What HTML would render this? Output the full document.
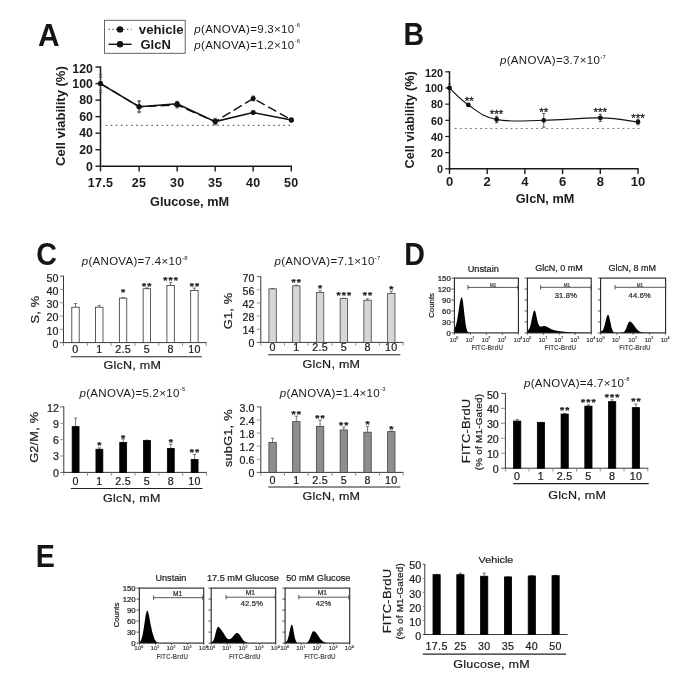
<!DOCTYPE html>
<html lang="en">
<head>
<meta charset="utf-8">
<title>Figure</title>
<style>
html,body{margin:0;padding:0;background:#fff;}
body{width:685px;height:694px;overflow:hidden;font-family:'Liberation Sans', Arial, Helvetica, sans-serif;}
svg{display:block;}
svg text{font-family:"Liberation Sans",Arial,Helvetica,sans-serif;}
</style>
</head>
<body>
<svg width="685" height="694" viewBox="0 0 685 694">
<rect x="0" y="0" width="685" height="694" fill="#ffffff"/>
<text transform="translate(37.9 46.3) scale(0.97 1)" font-size="30.8" font-weight="bold" text-anchor="start" fill="#151515">A</text>
<text transform="translate(403.6 45) scale(0.93 1)" font-size="30.8" font-weight="bold" text-anchor="start" fill="#151515">B</text>
<text transform="translate(36.2 264.9) scale(0.93 1)" font-size="30.8" font-weight="bold" text-anchor="start" fill="#151515">C</text>
<text transform="translate(404.2 264.9) scale(0.93 1)" font-size="30.8" font-weight="bold" text-anchor="start" fill="#151515">D</text>
<text transform="translate(35.8 566.5) scale(0.93 1)" font-size="30.8" font-weight="bold" text-anchor="start" fill="#151515">E</text>
<line x1="100.5" y1="66.38" x2="100.5" y2="166.9" stroke="#1a1a1a" stroke-width="1.5"/>
<line x1="99.8" y1="166.2" x2="292" y2="166.2" stroke="#1a1a1a" stroke-width="1.5"/>
<line x1="95.5" y1="166.2" x2="100.5" y2="166.2" stroke="#1a1a1a" stroke-width="1.4"/>
<text x="92.9" y="170.5" font-size="12.3" font-weight="bold" text-anchor="end" fill="#1a1a1a">0</text>
<line x1="95.5" y1="149.68" x2="100.5" y2="149.68" stroke="#1a1a1a" stroke-width="1.4"/>
<text x="92.9" y="153.98" font-size="12.3" font-weight="bold" text-anchor="end" fill="#1a1a1a">20</text>
<line x1="95.5" y1="133.16" x2="100.5" y2="133.16" stroke="#1a1a1a" stroke-width="1.4"/>
<text x="92.9" y="137.46" font-size="12.3" font-weight="bold" text-anchor="end" fill="#1a1a1a">40</text>
<line x1="95.5" y1="116.64" x2="100.5" y2="116.64" stroke="#1a1a1a" stroke-width="1.4"/>
<text x="92.9" y="120.94" font-size="12.3" font-weight="bold" text-anchor="end" fill="#1a1a1a">60</text>
<line x1="95.5" y1="100.12" x2="100.5" y2="100.12" stroke="#1a1a1a" stroke-width="1.4"/>
<text x="92.9" y="104.42" font-size="12.3" font-weight="bold" text-anchor="end" fill="#1a1a1a">80</text>
<line x1="95.5" y1="83.6" x2="100.5" y2="83.6" stroke="#1a1a1a" stroke-width="1.4"/>
<text x="92.9" y="87.9" font-size="12.3" font-weight="bold" text-anchor="end" fill="#1a1a1a">100</text>
<line x1="95.5" y1="67.08" x2="100.5" y2="67.08" stroke="#1a1a1a" stroke-width="1.4"/>
<text x="92.9" y="72.78" font-size="12.3" font-weight="bold" text-anchor="end" fill="#1a1a1a">120</text>
<line x1="100.5" y1="166.2" x2="100.5" y2="171.4" stroke="#1a1a1a" stroke-width="1.4"/>
<text x="100.5" y="187" font-size="12.5" font-weight="bold" text-anchor="middle" fill="#1a1a1a" letter-spacing="0.3">17.5</text>
<line x1="139.1" y1="166.2" x2="139.1" y2="171.4" stroke="#1a1a1a" stroke-width="1.4"/>
<text x="139.1" y="187" font-size="12.5" font-weight="bold" text-anchor="middle" fill="#1a1a1a" letter-spacing="0.3">25</text>
<line x1="177.2" y1="166.2" x2="177.2" y2="171.4" stroke="#1a1a1a" stroke-width="1.4"/>
<text x="177.2" y="187" font-size="12.5" font-weight="bold" text-anchor="middle" fill="#1a1a1a" letter-spacing="0.3">30</text>
<line x1="215.2" y1="166.2" x2="215.2" y2="171.4" stroke="#1a1a1a" stroke-width="1.4"/>
<text x="215.2" y="187" font-size="12.5" font-weight="bold" text-anchor="middle" fill="#1a1a1a" letter-spacing="0.3">35</text>
<line x1="253.2" y1="166.2" x2="253.2" y2="171.4" stroke="#1a1a1a" stroke-width="1.4"/>
<text x="253.2" y="187" font-size="12.5" font-weight="bold" text-anchor="middle" fill="#1a1a1a" letter-spacing="0.3">40</text>
<line x1="291.3" y1="166.2" x2="291.3" y2="171.4" stroke="#1a1a1a" stroke-width="1.4"/>
<text x="291.3" y="187" font-size="12.5" font-weight="bold" text-anchor="middle" fill="#1a1a1a" letter-spacing="0.3">50</text>
<text x="189.5" y="205.7" font-size="12.7" font-weight="bold" text-anchor="middle" fill="#1a1a1a">Glucose, mM</text>
<text transform="translate(64.6 116.14) rotate(-90)" font-size="13" font-weight="bold" text-anchor="middle" fill="#1a1a1a">Cell viability (%)</text>
<line x1="105.6" y1="125.4" x2="292.8" y2="125.4" stroke="#666" stroke-width="1.15" stroke-dasharray="1.6 3.48"/>
<line x1="100.5" y1="74.51" x2="100.5" y2="92.69" stroke="#444" stroke-width="0.8"/>
<line x1="98.8" y1="74.51" x2="102.2" y2="74.51" stroke="#444" stroke-width="0.8"/>
<line x1="98.8" y1="92.69" x2="102.2" y2="92.69" stroke="#444" stroke-width="0.8"/>
<line x1="139.1" y1="101.77" x2="139.1" y2="111.68" stroke="#444" stroke-width="0.8"/>
<line x1="137.4" y1="101.77" x2="140.8" y2="101.77" stroke="#444" stroke-width="0.8"/>
<line x1="137.4" y1="111.68" x2="140.8" y2="111.68" stroke="#444" stroke-width="0.8"/>
<line x1="177.2" y1="102.18" x2="177.2" y2="107.97" stroke="#444" stroke-width="0.8"/>
<line x1="175.5" y1="102.18" x2="178.9" y2="102.18" stroke="#444" stroke-width="0.8"/>
<line x1="175.5" y1="107.97" x2="178.9" y2="107.97" stroke="#444" stroke-width="0.8"/>
<line x1="215.2" y1="119.12" x2="215.2" y2="124.07" stroke="#444" stroke-width="0.8"/>
<line x1="213.5" y1="119.12" x2="216.9" y2="119.12" stroke="#444" stroke-width="0.8"/>
<line x1="213.5" y1="124.07" x2="216.9" y2="124.07" stroke="#444" stroke-width="0.8"/>
<line x1="253.2" y1="95.99" x2="253.2" y2="100.95" stroke="#444" stroke-width="0.8"/>
<line x1="251.5" y1="95.99" x2="254.9" y2="95.99" stroke="#444" stroke-width="0.8"/>
<line x1="251.5" y1="100.95" x2="254.9" y2="100.95" stroke="#444" stroke-width="0.8"/>
<line x1="291.3" y1="118.7" x2="291.3" y2="121.18" stroke="#444" stroke-width="0.8"/>
<line x1="289.6" y1="118.7" x2="293" y2="118.7" stroke="#444" stroke-width="0.8"/>
<line x1="289.6" y1="121.18" x2="293" y2="121.18" stroke="#444" stroke-width="0.8"/>
<line x1="100.5" y1="76.99" x2="100.5" y2="90.21" stroke="#444" stroke-width="0.8"/>
<line x1="98.8" y1="76.99" x2="102.2" y2="76.99" stroke="#444" stroke-width="0.8"/>
<line x1="98.8" y1="90.21" x2="102.2" y2="90.21" stroke="#444" stroke-width="0.8"/>
<line x1="139.1" y1="100.7" x2="139.1" y2="112.76" stroke="#444" stroke-width="0.8"/>
<line x1="137.4" y1="100.7" x2="140.8" y2="100.7" stroke="#444" stroke-width="0.8"/>
<line x1="137.4" y1="112.76" x2="140.8" y2="112.76" stroke="#444" stroke-width="0.8"/>
<line x1="177.2" y1="101.36" x2="177.2" y2="106.31" stroke="#444" stroke-width="0.8"/>
<line x1="175.5" y1="101.36" x2="178.9" y2="101.36" stroke="#444" stroke-width="0.8"/>
<line x1="175.5" y1="106.31" x2="178.9" y2="106.31" stroke="#444" stroke-width="0.8"/>
<line x1="215.2" y1="118.29" x2="215.2" y2="124.9" stroke="#444" stroke-width="0.8"/>
<line x1="213.5" y1="118.29" x2="216.9" y2="118.29" stroke="#444" stroke-width="0.8"/>
<line x1="213.5" y1="124.9" x2="216.9" y2="124.9" stroke="#444" stroke-width="0.8"/>
<line x1="253.2" y1="111.27" x2="253.2" y2="113.75" stroke="#444" stroke-width="0.8"/>
<line x1="251.5" y1="111.27" x2="254.9" y2="111.27" stroke="#444" stroke-width="0.8"/>
<line x1="251.5" y1="113.75" x2="254.9" y2="113.75" stroke="#444" stroke-width="0.8"/>
<line x1="291.3" y1="118.29" x2="291.3" y2="121.6" stroke="#444" stroke-width="0.8"/>
<line x1="289.6" y1="118.29" x2="293" y2="118.29" stroke="#444" stroke-width="0.8"/>
<line x1="289.6" y1="121.6" x2="293" y2="121.6" stroke="#444" stroke-width="0.8"/>
<polyline points="100.5,83.6 139.1,106.7 177.2,105.1 215.2,121.6 253.2,98.5 291.3,119.9" fill="none" stroke="#111" stroke-width="1.4" stroke-dasharray="9.3 4"/>
<polyline points="100.5,83.6 139.1,106.7 177.2,103.8 215.2,121.6 253.2,112.5 291.3,119.9" fill="none" stroke="#111" stroke-width="1.5"/>
<circle cx="100.5" cy="83.6" r="2.5" fill="#111"/>
<circle cx="139.1" cy="106.73" r="2.5" fill="#111"/>
<circle cx="177.2" cy="105.08" r="2.5" fill="#111"/>
<circle cx="215.2" cy="121.6" r="2.5" fill="#111"/>
<circle cx="253.2" cy="98.47" r="2.5" fill="#111"/>
<circle cx="291.3" cy="119.94" r="2.5" fill="#111"/>
<circle cx="100.5" cy="83.6" r="2.5" fill="#111"/>
<circle cx="139.1" cy="106.73" r="2.5" fill="#111"/>
<circle cx="177.2" cy="103.84" r="2.5" fill="#111"/>
<circle cx="215.2" cy="121.6" r="2.5" fill="#111"/>
<circle cx="253.2" cy="112.51" r="2.5" fill="#111"/>
<circle cx="291.3" cy="119.94" r="2.5" fill="#111"/>
<rect x="104.5" y="20.3" width="80.7" height="33" fill="none" stroke="#555" stroke-width="0.9"/>
<line x1="108.6" y1="29.4" x2="131.5" y2="29.4" stroke="#444" stroke-width="1.2" stroke-dasharray="1.2 2.5"/>
<circle cx="120" cy="29.4" r="3.2" fill="#111"/>
<line x1="108.6" y1="44.3" x2="131.6" y2="44.3" stroke="#111" stroke-width="1.4"/>
<circle cx="120" cy="44.3" r="3.2" fill="#111"/>
<text x="138.8" y="33.5" font-size="13.2" font-weight="bold" text-anchor="start" fill="#1a1a1a">vehicle</text>
<text x="140.5" y="49.3" font-size="13" font-weight="bold" text-anchor="start" fill="#1a1a1a">GlcN</text>
<text x="194.3" y="32.5" font-size="11.5" font-weight="normal" text-anchor="start" fill="#1a1a1a" letter-spacing="0.3"><tspan font-style="italic">p</tspan>(ANOVA)=9.3×10<tspan font-size="5.8" dy="-5.4">-6</tspan></text>
<text x="194.3" y="48.5" font-size="11.5" font-weight="normal" text-anchor="start" fill="#1a1a1a" letter-spacing="0.3"><tspan font-style="italic">p</tspan>(ANOVA)=1.2×10<tspan font-size="5.8" dy="-5.4">-6</tspan></text>
<line x1="449.5" y1="71.14" x2="449.5" y2="169.5" stroke="#1a1a1a" stroke-width="1.5"/>
<line x1="448.8" y1="168.8" x2="638.7" y2="168.8" stroke="#1a1a1a" stroke-width="1.5"/>
<line x1="445.3" y1="168.8" x2="449.5" y2="168.8" stroke="#1a1a1a" stroke-width="1.2"/>
<text x="442.9" y="173.0" font-size="10.8" font-weight="bold" text-anchor="end" fill="#1a1a1a">0</text>
<line x1="445.3" y1="152.64" x2="449.5" y2="152.64" stroke="#1a1a1a" stroke-width="1.2"/>
<text x="442.9" y="156.84" font-size="10.8" font-weight="bold" text-anchor="end" fill="#1a1a1a">20</text>
<line x1="445.3" y1="136.48" x2="449.5" y2="136.48" stroke="#1a1a1a" stroke-width="1.2"/>
<text x="442.9" y="140.68" font-size="10.8" font-weight="bold" text-anchor="end" fill="#1a1a1a">40</text>
<line x1="445.3" y1="120.32" x2="449.5" y2="120.32" stroke="#1a1a1a" stroke-width="1.2"/>
<text x="442.9" y="124.52" font-size="10.8" font-weight="bold" text-anchor="end" fill="#1a1a1a">60</text>
<line x1="445.3" y1="104.16" x2="449.5" y2="104.16" stroke="#1a1a1a" stroke-width="1.2"/>
<text x="442.9" y="108.36" font-size="10.8" font-weight="bold" text-anchor="end" fill="#1a1a1a">80</text>
<line x1="445.3" y1="88" x2="449.5" y2="88" stroke="#1a1a1a" stroke-width="1.2"/>
<text x="442.9" y="92.2" font-size="10.8" font-weight="bold" text-anchor="end" fill="#1a1a1a">100</text>
<line x1="445.3" y1="71.84" x2="449.5" y2="71.84" stroke="#1a1a1a" stroke-width="1.2"/>
<text x="442.9" y="76.54" font-size="10.8" font-weight="bold" text-anchor="end" fill="#1a1a1a">120</text>
<line x1="449.5" y1="168.8" x2="449.5" y2="174" stroke="#1a1a1a" stroke-width="1.4"/>
<text x="449.5" y="185.5" font-size="13" font-weight="bold" text-anchor="middle" fill="#1a1a1a">0</text>
<line x1="487.2" y1="168.8" x2="487.2" y2="174" stroke="#1a1a1a" stroke-width="1.4"/>
<text x="487.2" y="185.5" font-size="13" font-weight="bold" text-anchor="middle" fill="#1a1a1a">2</text>
<line x1="524.9" y1="168.8" x2="524.9" y2="174" stroke="#1a1a1a" stroke-width="1.4"/>
<text x="524.9" y="185.5" font-size="13" font-weight="bold" text-anchor="middle" fill="#1a1a1a">4</text>
<line x1="562.6" y1="168.8" x2="562.6" y2="174" stroke="#1a1a1a" stroke-width="1.4"/>
<text x="562.6" y="185.5" font-size="13" font-weight="bold" text-anchor="middle" fill="#1a1a1a">6</text>
<line x1="600.3" y1="168.8" x2="600.3" y2="174" stroke="#1a1a1a" stroke-width="1.4"/>
<text x="600.3" y="185.5" font-size="13" font-weight="bold" text-anchor="middle" fill="#1a1a1a">8</text>
<line x1="638" y1="168.8" x2="638" y2="174" stroke="#1a1a1a" stroke-width="1.4"/>
<text x="638.0" y="185.5" font-size="13" font-weight="bold" text-anchor="middle" fill="#1a1a1a">10</text>
<text x="545" y="203.2" font-size="12.7" font-weight="bold" text-anchor="middle" fill="#1a1a1a">GlcN, mM</text>
<text transform="translate(414 119.82) rotate(-90)" font-size="12.7" font-weight="bold" text-anchor="middle" fill="#1a1a1a">Cell viability (%)</text>
<line x1="454.8" y1="128.5" x2="640.5" y2="128.5" stroke="#7a7a7a" stroke-width="1.0" stroke-dasharray="1.8 3.28"/>
<line x1="449.5" y1="83.96" x2="449.5" y2="92.04" stroke="#333" stroke-width="0.8"/>
<line x1="448" y1="83.96" x2="451" y2="83.96" stroke="#333" stroke-width="0.8"/>
<line x1="448" y1="92.04" x2="451" y2="92.04" stroke="#333" stroke-width="0.8"/>
<line x1="468.35" y1="103.76" x2="468.35" y2="106.18" stroke="#333" stroke-width="0.8"/>
<line x1="466.85" y1="103.76" x2="469.85" y2="103.76" stroke="#333" stroke-width="0.8"/>
<line x1="466.85" y1="106.18" x2="469.85" y2="106.18" stroke="#333" stroke-width="0.8"/>
<line x1="496.62" y1="116.28" x2="496.62" y2="122.74" stroke="#333" stroke-width="0.8"/>
<line x1="495.12" y1="116.28" x2="498.12" y2="116.28" stroke="#333" stroke-width="0.8"/>
<line x1="495.12" y1="122.74" x2="498.12" y2="122.74" stroke="#333" stroke-width="0.8"/>
<line x1="543.75" y1="113.45" x2="543.75" y2="127.19" stroke="#333" stroke-width="0.8"/>
<line x1="542.25" y1="113.45" x2="545.25" y2="113.45" stroke="#333" stroke-width="0.8"/>
<line x1="542.25" y1="127.19" x2="545.25" y2="127.19" stroke="#333" stroke-width="0.8"/>
<line x1="600.3" y1="114.26" x2="600.3" y2="121.53" stroke="#333" stroke-width="0.8"/>
<line x1="598.8" y1="114.26" x2="601.8" y2="114.26" stroke="#333" stroke-width="0.8"/>
<line x1="598.8" y1="121.53" x2="601.8" y2="121.53" stroke="#333" stroke-width="0.8"/>
<line x1="638" y1="119.11" x2="638" y2="124.76" stroke="#333" stroke-width="0.8"/>
<line x1="636.5" y1="119.11" x2="639.5" y2="119.11" stroke="#333" stroke-width="0.8"/>
<line x1="636.5" y1="124.76" x2="639.5" y2="124.76" stroke="#333" stroke-width="0.8"/>
<path d="M449.5,88.0 C453.1,91.2 459.4,99.0 468.4,105.0 C477.3,111.0 482.3,116.6 496.6,119.5 C511.0,122.4 524.1,120.6 543.8,120.3 C563.4,120.0 582.4,117.6 600.3,117.9 C618.2,118.2 630.8,121.2 638.0,121.9" fill="none" stroke="#111" stroke-width="1.15"/>
<circle cx="449.5" cy="88.0" r="2.4" fill="#111"/>
<circle cx="468.35" cy="104.97" r="2.4" fill="#111"/>
<circle cx="496.62" cy="119.51" r="2.4" fill="#111"/>
<circle cx="543.75" cy="120.32" r="2.4" fill="#111"/>
<circle cx="600.3" cy="117.9" r="2.4" fill="#111"/>
<circle cx="638.0" cy="121.94" r="2.4" fill="#111"/>
<text x="469.35" y="104.56" font-size="11.6" font-weight="normal" text-anchor="middle" fill="#222" stroke="#222" stroke-width="0.3">**</text>
<text x="496.62" y="117.86" font-size="11.6" font-weight="normal" text-anchor="middle" fill="#222" stroke="#222" stroke-width="0.3">***</text>
<text x="543.75" y="116.16" font-size="11.6" font-weight="normal" text-anchor="middle" fill="#222" stroke="#222" stroke-width="0.3">**</text>
<text x="600.3" y="116.16" font-size="11.6" font-weight="normal" text-anchor="middle" fill="#222" stroke="#222" stroke-width="0.3">***</text>
<text x="638.0" y="121.76" font-size="11.6" font-weight="normal" text-anchor="middle" fill="#222" stroke="#222" stroke-width="0.3">***</text>
<text x="553" y="64" font-size="11.5" font-weight="normal" text-anchor="middle" fill="#1a1a1a" letter-spacing="0.3"><tspan font-style="italic">p</tspan>(ANOVA)=3.7×10<tspan font-size="5.8" dy="-5.4">-7</tspan></text>
<line x1="63.5" y1="275.7" x2="63.5" y2="343" stroke="#222" stroke-width="0.9"/>
<line x1="63.1" y1="342.6" x2="206.7" y2="342.6" stroke="#222" stroke-width="0.9"/>
<line x1="59.9" y1="342.6" x2="63.5" y2="342.6" stroke="#333" stroke-width="0.8"/>
<text transform="translate(58.5 347.9) scale(1.07 1)" font-size="10" font-weight="normal" text-anchor="end" fill="#1a1a1a" stroke="#222" stroke-width="0.22">0</text>
<line x1="59.9" y1="329.3" x2="63.5" y2="329.3" stroke="#777" stroke-width="0.8"/>
<text transform="translate(58.5 334.6) scale(1.07 1)" font-size="10" font-weight="normal" text-anchor="end" fill="#1a1a1a" stroke="#222" stroke-width="0.22">10</text>
<line x1="59.9" y1="316" x2="63.5" y2="316" stroke="#777" stroke-width="0.8"/>
<text transform="translate(58.5 321.3) scale(1.07 1)" font-size="10" font-weight="normal" text-anchor="end" fill="#1a1a1a" stroke="#222" stroke-width="0.22">20</text>
<line x1="59.9" y1="302.7" x2="63.5" y2="302.7" stroke="#777" stroke-width="0.8"/>
<text transform="translate(58.5 308.0) scale(1.07 1)" font-size="10" font-weight="normal" text-anchor="end" fill="#1a1a1a" stroke="#222" stroke-width="0.22">30</text>
<line x1="59.9" y1="289.4" x2="63.5" y2="289.4" stroke="#777" stroke-width="0.8"/>
<text transform="translate(58.5 294.7) scale(1.07 1)" font-size="10" font-weight="normal" text-anchor="end" fill="#1a1a1a" stroke="#222" stroke-width="0.22">40</text>
<line x1="59.9" y1="276.1" x2="63.5" y2="276.1" stroke="#333" stroke-width="0.8"/>
<text transform="translate(58.5 281.9) scale(1.07 1)" font-size="10" font-weight="normal" text-anchor="end" fill="#1a1a1a" stroke="#222" stroke-width="0.22">50</text>
<line x1="63.5" y1="342.6" x2="63.5" y2="345.9" stroke="#777" stroke-width="0.8"/>
<line x1="87.39" y1="342.6" x2="87.39" y2="345.9" stroke="#777" stroke-width="0.8"/>
<line x1="111.17" y1="342.6" x2="111.17" y2="345.9" stroke="#777" stroke-width="0.8"/>
<line x1="134.95" y1="342.6" x2="134.95" y2="345.9" stroke="#777" stroke-width="0.8"/>
<line x1="158.73" y1="342.6" x2="158.73" y2="345.9" stroke="#777" stroke-width="0.8"/>
<line x1="182.51" y1="342.6" x2="182.51" y2="345.9" stroke="#777" stroke-width="0.8"/>
<line x1="206.29" y1="342.6" x2="206.29" y2="345.9" stroke="#777" stroke-width="0.8"/>
<line x1="75.5" y1="303.5" x2="75.5" y2="307.22" stroke="#666" stroke-width="0.9"/>
<line x1="73.9" y1="303.5" x2="77.1" y2="303.5" stroke="#666" stroke-width="0.9"/>
<rect x="71.80" y="307.22" width="7.4" height="35.38" fill="#fff" stroke="#333" stroke-width="0.8"/>
<line x1="99.28" y1="305.43" x2="99.28" y2="307.22" stroke="#666" stroke-width="0.9"/>
<line x1="97.68" y1="305.43" x2="100.88" y2="305.43" stroke="#666" stroke-width="0.9"/>
<rect x="95.58" y="307.22" width="7.4" height="35.38" fill="#fff" stroke="#333" stroke-width="0.8"/>
<line x1="123.06" y1="297.51" x2="123.06" y2="298.18" stroke="#666" stroke-width="0.9"/>
<line x1="121.46" y1="297.51" x2="124.66" y2="297.51" stroke="#666" stroke-width="0.9"/>
<rect x="119.36" y="298.18" width="7.4" height="44.42" fill="#fff" stroke="#333" stroke-width="0.8"/>
<text transform="translate(123.56 294.7) scale(1.15 1)" font-size="9.2" font-weight="bold" text-anchor="middle" fill="#222" letter-spacing="1.0" stroke="#222" stroke-width="0.25">*</text>
<line x1="146.84" y1="287.94" x2="146.84" y2="288.74" stroke="#666" stroke-width="0.9"/>
<line x1="145.24" y1="287.94" x2="148.44" y2="287.94" stroke="#666" stroke-width="0.9"/>
<rect x="143.14" y="288.74" width="7.4" height="53.87" fill="#fff" stroke="#333" stroke-width="0.8"/>
<text transform="translate(147.34 288.6) scale(1.15 1)" font-size="9.2" font-weight="bold" text-anchor="middle" fill="#222" letter-spacing="1.0" stroke="#222" stroke-width="0.25">**</text>
<line x1="170.62" y1="282.62" x2="170.62" y2="285.41" stroke="#666" stroke-width="0.9"/>
<line x1="169.02" y1="282.62" x2="172.22" y2="282.62" stroke="#666" stroke-width="0.9"/>
<rect x="166.92" y="285.41" width="7.4" height="57.19" fill="#fff" stroke="#333" stroke-width="0.8"/>
<text transform="translate(171.12 282.9) scale(1.15 1)" font-size="9.2" font-weight="bold" text-anchor="middle" fill="#222" letter-spacing="1.0" stroke="#222" stroke-width="0.25">***</text>
<line x1="194.4" y1="288.07" x2="194.4" y2="290.46" stroke="#666" stroke-width="0.9"/>
<line x1="192.8" y1="288.07" x2="196" y2="288.07" stroke="#666" stroke-width="0.9"/>
<rect x="190.70" y="290.46" width="7.4" height="52.14" fill="#fff" stroke="#333" stroke-width="0.8"/>
<text transform="translate(194.9 288.6) scale(1.15 1)" font-size="9.2" font-weight="bold" text-anchor="middle" fill="#222" letter-spacing="1.0" stroke="#222" stroke-width="0.25">**</text>
<text transform="translate(75.5 353) scale(1.07 1)" font-size="10" font-weight="normal" text-anchor="middle" fill="#1a1a1a" letter-spacing="0.3" stroke="#222" stroke-width="0.22">0</text>
<text transform="translate(99.28 353) scale(1.07 1)" font-size="10" font-weight="normal" text-anchor="middle" fill="#1a1a1a" letter-spacing="0.3" stroke="#222" stroke-width="0.22">1</text>
<text transform="translate(123.06 353) scale(1.07 1)" font-size="10" font-weight="normal" text-anchor="middle" fill="#1a1a1a" letter-spacing="0.3" stroke="#222" stroke-width="0.22">2.5</text>
<text transform="translate(146.84 353) scale(1.07 1)" font-size="10" font-weight="normal" text-anchor="middle" fill="#1a1a1a" letter-spacing="0.3" stroke="#222" stroke-width="0.22">5</text>
<text transform="translate(170.62 353) scale(1.07 1)" font-size="10" font-weight="normal" text-anchor="middle" fill="#1a1a1a" letter-spacing="0.3" stroke="#222" stroke-width="0.22">8</text>
<text transform="translate(194.4 353) scale(1.07 1)" font-size="10" font-weight="normal" text-anchor="middle" fill="#1a1a1a" letter-spacing="0.3" stroke="#222" stroke-width="0.22">10</text>
<line x1="70.8" y1="356.7" x2="201.7" y2="356.7" stroke="#222" stroke-width="1.1"/>
<text transform="translate(132.3 369.4) scale(1.08 1)" font-size="11.6" font-weight="normal" text-anchor="middle" fill="#1a1a1a" letter-spacing="0.25" stroke="#222" stroke-width="0.22">GlcN, mM</text>
<text transform="translate(39 309.5) rotate(-90) scale(1.1 1)" font-size="11.6" font-weight="normal" text-anchor="middle" fill="#1a1a1a" letter-spacing="0.2" stroke="#222" stroke-width="0.22">S, %</text>
<text x="134.7" y="265" font-size="11.5" font-weight="normal" text-anchor="middle" fill="#1a1a1a" letter-spacing="0.3"><tspan font-style="italic">p</tspan>(ANOVA)=7.4×10<tspan font-size="5.8" dy="-5.4">-8</tspan></text>
<line x1="260.8" y1="276.2" x2="260.8" y2="342.8" stroke="#222" stroke-width="0.9"/>
<line x1="260.4" y1="342.4" x2="403.5" y2="342.4" stroke="#222" stroke-width="0.9"/>
<line x1="256.8" y1="342.4" x2="260.8" y2="342.4" stroke="#333" stroke-width="0.8"/>
<text transform="translate(254.4 347.35) scale(1.07 1)" font-size="10" font-weight="normal" text-anchor="end" fill="#1a1a1a" stroke="#222" stroke-width="0.22">0</text>
<line x1="256.8" y1="329.24" x2="260.8" y2="329.24" stroke="#777" stroke-width="0.8"/>
<text transform="translate(254.4 334.19) scale(1.07 1)" font-size="10" font-weight="normal" text-anchor="end" fill="#1a1a1a" stroke="#222" stroke-width="0.22">14</text>
<line x1="256.8" y1="316.08" x2="260.8" y2="316.08" stroke="#777" stroke-width="0.8"/>
<text transform="translate(254.4 321.03) scale(1.07 1)" font-size="10" font-weight="normal" text-anchor="end" fill="#1a1a1a" stroke="#222" stroke-width="0.22">28</text>
<line x1="256.8" y1="302.92" x2="260.8" y2="302.92" stroke="#777" stroke-width="0.8"/>
<text transform="translate(254.4 307.87) scale(1.07 1)" font-size="10" font-weight="normal" text-anchor="end" fill="#1a1a1a" stroke="#222" stroke-width="0.22">42</text>
<line x1="256.8" y1="289.76" x2="260.8" y2="289.76" stroke="#777" stroke-width="0.8"/>
<text transform="translate(254.4 294.71) scale(1.07 1)" font-size="10" font-weight="normal" text-anchor="end" fill="#1a1a1a" stroke="#222" stroke-width="0.22">56</text>
<line x1="256.8" y1="276.6" x2="260.8" y2="276.6" stroke="#333" stroke-width="0.8"/>
<text transform="translate(254.4 281.55) scale(1.07 1)" font-size="10" font-weight="normal" text-anchor="end" fill="#1a1a1a" stroke="#222" stroke-width="0.22">70</text>
<line x1="260.8" y1="342.4" x2="260.8" y2="345.7" stroke="#777" stroke-width="0.8"/>
<line x1="284.47" y1="342.4" x2="284.47" y2="345.7" stroke="#777" stroke-width="0.8"/>
<line x1="308.21" y1="342.4" x2="308.21" y2="345.7" stroke="#777" stroke-width="0.8"/>
<line x1="331.95" y1="342.4" x2="331.95" y2="345.7" stroke="#777" stroke-width="0.8"/>
<line x1="355.69" y1="342.4" x2="355.69" y2="345.7" stroke="#777" stroke-width="0.8"/>
<line x1="379.43" y1="342.4" x2="379.43" y2="345.7" stroke="#777" stroke-width="0.8"/>
<line x1="403.17" y1="342.4" x2="403.17" y2="345.7" stroke="#777" stroke-width="0.8"/>
<line x1="272.6" y1="288.44" x2="272.6" y2="288.82" stroke="#666" stroke-width="0.9"/>
<line x1="271" y1="288.44" x2="274.2" y2="288.44" stroke="#666" stroke-width="0.9"/>
<rect x="268.90" y="288.82" width="7.4" height="53.58" fill="#d6d6d6" stroke="#444" stroke-width="0.8"/>
<line x1="296.34" y1="285.15" x2="296.34" y2="285.81" stroke="#666" stroke-width="0.9"/>
<line x1="294.74" y1="285.15" x2="297.94" y2="285.15" stroke="#666" stroke-width="0.9"/>
<rect x="292.64" y="285.81" width="7.4" height="56.59" fill="#d6d6d6" stroke="#444" stroke-width="0.8"/>
<text transform="translate(296.84 284.5) scale(1.15 1)" font-size="9.2" font-weight="bold" text-anchor="middle" fill="#222" letter-spacing="1.0" stroke="#222" stroke-width="0.25">**</text>
<line x1="320.08" y1="290.61" x2="320.08" y2="292.49" stroke="#666" stroke-width="0.9"/>
<line x1="318.48" y1="290.61" x2="321.68" y2="290.61" stroke="#666" stroke-width="0.9"/>
<rect x="316.38" y="292.49" width="7.4" height="49.91" fill="#d6d6d6" stroke="#444" stroke-width="0.8"/>
<text transform="translate(320.58 291.0) scale(1.15 1)" font-size="9.2" font-weight="bold" text-anchor="middle" fill="#222" letter-spacing="1.0" stroke="#222" stroke-width="0.25">*</text>
<line x1="343.82" y1="298.22" x2="343.82" y2="298.6" stroke="#666" stroke-width="0.9"/>
<line x1="342.22" y1="298.22" x2="345.42" y2="298.22" stroke="#666" stroke-width="0.9"/>
<rect x="340.12" y="298.60" width="7.4" height="43.80" fill="#d6d6d6" stroke="#444" stroke-width="0.8"/>
<text transform="translate(344.32 297.7) scale(1.15 1)" font-size="9.2" font-weight="bold" text-anchor="middle" fill="#222" letter-spacing="1.0" stroke="#222" stroke-width="0.25">***</text>
<line x1="367.56" y1="298.78" x2="367.56" y2="300.19" stroke="#666" stroke-width="0.9"/>
<line x1="365.96" y1="298.78" x2="369.16" y2="298.78" stroke="#666" stroke-width="0.9"/>
<rect x="363.86" y="300.19" width="7.4" height="42.21" fill="#d6d6d6" stroke="#444" stroke-width="0.8"/>
<text transform="translate(368.06 298.2) scale(1.15 1)" font-size="9.2" font-weight="bold" text-anchor="middle" fill="#222" letter-spacing="1.0" stroke="#222" stroke-width="0.25">**</text>
<line x1="391.3" y1="291.26" x2="391.3" y2="293.52" stroke="#666" stroke-width="0.9"/>
<line x1="389.7" y1="291.26" x2="392.9" y2="291.26" stroke="#666" stroke-width="0.9"/>
<rect x="387.60" y="293.52" width="7.4" height="48.88" fill="#d6d6d6" stroke="#444" stroke-width="0.8"/>
<text transform="translate(391.8 291.5) scale(1.15 1)" font-size="9.2" font-weight="bold" text-anchor="middle" fill="#222" letter-spacing="1.0" stroke="#222" stroke-width="0.25">*</text>
<text transform="translate(272.6 351.4) scale(1.07 1)" font-size="10" font-weight="normal" text-anchor="middle" fill="#1a1a1a" letter-spacing="0.3" stroke="#222" stroke-width="0.22">0</text>
<text transform="translate(296.34 351.4) scale(1.07 1)" font-size="10" font-weight="normal" text-anchor="middle" fill="#1a1a1a" letter-spacing="0.3" stroke="#222" stroke-width="0.22">1</text>
<text transform="translate(320.08 351.4) scale(1.07 1)" font-size="10" font-weight="normal" text-anchor="middle" fill="#1a1a1a" letter-spacing="0.3" stroke="#222" stroke-width="0.22">2.5</text>
<text transform="translate(343.82 351.4) scale(1.07 1)" font-size="10" font-weight="normal" text-anchor="middle" fill="#1a1a1a" letter-spacing="0.3" stroke="#222" stroke-width="0.22">5</text>
<text transform="translate(367.56 351.4) scale(1.07 1)" font-size="10" font-weight="normal" text-anchor="middle" fill="#1a1a1a" letter-spacing="0.3" stroke="#222" stroke-width="0.22">8</text>
<text transform="translate(391.3 351.4) scale(1.07 1)" font-size="10" font-weight="normal" text-anchor="middle" fill="#1a1a1a" letter-spacing="0.3" stroke="#222" stroke-width="0.22">10</text>
<line x1="268.2" y1="354.7" x2="400.3" y2="354.7" stroke="#222" stroke-width="1.1"/>
<text transform="translate(331.4 368.2) scale(1.08 1)" font-size="11.6" font-weight="normal" text-anchor="middle" fill="#1a1a1a" letter-spacing="0.25" stroke="#222" stroke-width="0.22">GlcN, mM</text>
<text transform="translate(231.6 311) rotate(-90) scale(1.1 1)" font-size="11.6" font-weight="normal" text-anchor="middle" fill="#1a1a1a" letter-spacing="0.2" stroke="#222" stroke-width="0.22">G1, %</text>
<text x="327.5" y="265" font-size="11.5" font-weight="normal" text-anchor="middle" fill="#1a1a1a" letter-spacing="0.3"><tspan font-style="italic">p</tspan>(ANOVA)=7.1×10<tspan font-size="5.8" dy="-5.4">-7</tspan></text>
<line x1="63.8" y1="406.5" x2="63.8" y2="472.8" stroke="#222" stroke-width="0.9"/>
<line x1="63.4" y1="472.4" x2="206.7" y2="472.4" stroke="#222" stroke-width="0.9"/>
<line x1="60.3" y1="472.4" x2="63.8" y2="472.4" stroke="#333" stroke-width="0.8"/>
<text transform="translate(58.9 476.85) scale(1.07 1)" font-size="10" font-weight="normal" text-anchor="end" fill="#1a1a1a" stroke="#222" stroke-width="0.22">0</text>
<line x1="60.3" y1="456.02" x2="63.8" y2="456.02" stroke="#777" stroke-width="0.8"/>
<text transform="translate(58.9 460.47) scale(1.07 1)" font-size="10" font-weight="normal" text-anchor="end" fill="#1a1a1a" stroke="#222" stroke-width="0.22">3</text>
<line x1="60.3" y1="439.65" x2="63.8" y2="439.65" stroke="#777" stroke-width="0.8"/>
<text transform="translate(58.9 444.1) scale(1.07 1)" font-size="10" font-weight="normal" text-anchor="end" fill="#1a1a1a" stroke="#222" stroke-width="0.22">6</text>
<line x1="60.3" y1="423.27" x2="63.8" y2="423.27" stroke="#777" stroke-width="0.8"/>
<text transform="translate(58.9 427.72) scale(1.07 1)" font-size="10" font-weight="normal" text-anchor="end" fill="#1a1a1a" stroke="#222" stroke-width="0.22">9</text>
<line x1="60.3" y1="406.9" x2="63.8" y2="406.9" stroke="#333" stroke-width="0.8"/>
<text transform="translate(58.9 411.65) scale(1.07 1)" font-size="10" font-weight="normal" text-anchor="end" fill="#1a1a1a" stroke="#222" stroke-width="0.22">12</text>
<line x1="63.8" y1="472.4" x2="63.8" y2="475.7" stroke="#777" stroke-width="0.8"/>
<line x1="87.5" y1="472.4" x2="87.5" y2="475.7" stroke="#777" stroke-width="0.8"/>
<line x1="111.3" y1="472.4" x2="111.3" y2="475.7" stroke="#777" stroke-width="0.8"/>
<line x1="135.1" y1="472.4" x2="135.1" y2="475.7" stroke="#777" stroke-width="0.8"/>
<line x1="158.9" y1="472.4" x2="158.9" y2="475.7" stroke="#777" stroke-width="0.8"/>
<line x1="182.7" y1="472.4" x2="182.7" y2="475.7" stroke="#777" stroke-width="0.8"/>
<line x1="206.5" y1="472.4" x2="206.5" y2="475.7" stroke="#777" stroke-width="0.8"/>
<line x1="75.6" y1="417.98" x2="75.6" y2="426.6" stroke="#666" stroke-width="0.9"/>
<line x1="74" y1="417.98" x2="77.2" y2="417.98" stroke="#666" stroke-width="0.9"/>
<rect x="72.15" y="426.60" width="6.9" height="45.80" fill="#000" stroke="#000" stroke-width="0.8"/>
<line x1="99.4" y1="447.89" x2="99.4" y2="449.26" stroke="#666" stroke-width="0.9"/>
<line x1="97.8" y1="447.89" x2="101" y2="447.89" stroke="#666" stroke-width="0.9"/>
<rect x="95.95" y="449.26" width="6.9" height="23.14" fill="#000" stroke="#000" stroke-width="0.8"/>
<text transform="translate(99.9 448.1) scale(1.15 1)" font-size="9.2" font-weight="bold" text-anchor="middle" fill="#222" letter-spacing="1.0" stroke="#222" stroke-width="0.25">*</text>
<line x1="123.2" y1="439.1" x2="123.2" y2="442.38" stroke="#666" stroke-width="0.9"/>
<line x1="121.6" y1="439.1" x2="124.8" y2="439.1" stroke="#666" stroke-width="0.9"/>
<rect x="119.75" y="442.38" width="6.9" height="30.02" fill="#000" stroke="#000" stroke-width="0.8"/>
<text transform="translate(123.7 440.5) scale(1.15 1)" font-size="9.2" font-weight="bold" text-anchor="middle" fill="#222" letter-spacing="1.0" stroke="#222" stroke-width="0.25">*</text>
<line x1="147" y1="440.14" x2="147" y2="440.58" stroke="#666" stroke-width="0.9"/>
<line x1="145.4" y1="440.14" x2="148.6" y2="440.14" stroke="#666" stroke-width="0.9"/>
<rect x="143.55" y="440.58" width="6.9" height="31.82" fill="#000" stroke="#000" stroke-width="0.8"/>
<line x1="170.8" y1="444.23" x2="170.8" y2="448.38" stroke="#666" stroke-width="0.9"/>
<line x1="169.2" y1="444.23" x2="172.4" y2="444.23" stroke="#666" stroke-width="0.9"/>
<rect x="167.35" y="448.38" width="6.9" height="24.02" fill="#000" stroke="#000" stroke-width="0.8"/>
<text transform="translate(171.3 444.7) scale(1.15 1)" font-size="9.2" font-weight="bold" text-anchor="middle" fill="#222" letter-spacing="1.0" stroke="#222" stroke-width="0.25">*</text>
<line x1="194.6" y1="454.5" x2="194.6" y2="459.41" stroke="#666" stroke-width="0.9"/>
<line x1="193" y1="454.5" x2="196.2" y2="454.5" stroke="#666" stroke-width="0.9"/>
<rect x="191.15" y="459.41" width="6.9" height="12.99" fill="#000" stroke="#000" stroke-width="0.8"/>
<text transform="translate(195.1 454.6) scale(1.15 1)" font-size="9.2" font-weight="bold" text-anchor="middle" fill="#222" letter-spacing="1.0" stroke="#222" stroke-width="0.25">**</text>
<text transform="translate(75.6 485.2) scale(1.07 1)" font-size="10" font-weight="normal" text-anchor="middle" fill="#1a1a1a" letter-spacing="0.3" stroke="#222" stroke-width="0.22">0</text>
<text transform="translate(99.4 485.2) scale(1.07 1)" font-size="10" font-weight="normal" text-anchor="middle" fill="#1a1a1a" letter-spacing="0.3" stroke="#222" stroke-width="0.22">1</text>
<text transform="translate(123.2 485.2) scale(1.07 1)" font-size="10" font-weight="normal" text-anchor="middle" fill="#1a1a1a" letter-spacing="0.3" stroke="#222" stroke-width="0.22">2.5</text>
<text transform="translate(147.0 485.2) scale(1.07 1)" font-size="10" font-weight="normal" text-anchor="middle" fill="#1a1a1a" letter-spacing="0.3" stroke="#222" stroke-width="0.22">5</text>
<text transform="translate(170.8 485.2) scale(1.07 1)" font-size="10" font-weight="normal" text-anchor="middle" fill="#1a1a1a" letter-spacing="0.3" stroke="#222" stroke-width="0.22">8</text>
<text transform="translate(194.6 485.2) scale(1.07 1)" font-size="10" font-weight="normal" text-anchor="middle" fill="#1a1a1a" letter-spacing="0.3" stroke="#222" stroke-width="0.22">10</text>
<line x1="70.8" y1="488.5" x2="202.5" y2="488.5" stroke="#222" stroke-width="1.1"/>
<text transform="translate(131.8 502) scale(1.08 1)" font-size="11.6" font-weight="normal" text-anchor="middle" fill="#1a1a1a" letter-spacing="0.25" stroke="#222" stroke-width="0.22">GlcN, mM</text>
<text transform="translate(37.8 437.3) rotate(-90) scale(1.1 1)" font-size="11.6" font-weight="normal" text-anchor="middle" fill="#1a1a1a" letter-spacing="0.2" stroke="#222" stroke-width="0.22">G2/M, %</text>
<text x="132.5" y="396.6" font-size="11.5" font-weight="normal" text-anchor="middle" fill="#1a1a1a" letter-spacing="0.3"><tspan font-style="italic">p</tspan>(ANOVA)=5.2×10<tspan font-size="5.8" dy="-5.4">-5</tspan></text>
<line x1="260.8" y1="406.5" x2="260.8" y2="472.8" stroke="#222" stroke-width="0.9"/>
<line x1="260.4" y1="472.4" x2="403.5" y2="472.4" stroke="#222" stroke-width="0.9"/>
<line x1="256.8" y1="472.4" x2="260.8" y2="472.4" stroke="#333" stroke-width="0.8"/>
<text transform="translate(254.4 477.3) scale(1.07 1)" font-size="10" font-weight="normal" text-anchor="end" fill="#1a1a1a" stroke="#222" stroke-width="0.22">0</text>
<line x1="256.8" y1="459.3" x2="260.8" y2="459.3" stroke="#777" stroke-width="0.8"/>
<text transform="translate(254.4 464.2) scale(1.07 1)" font-size="10" font-weight="normal" text-anchor="end" fill="#1a1a1a" stroke="#222" stroke-width="0.22">0.6</text>
<line x1="256.8" y1="446.2" x2="260.8" y2="446.2" stroke="#777" stroke-width="0.8"/>
<text transform="translate(254.4 451.1) scale(1.07 1)" font-size="10" font-weight="normal" text-anchor="end" fill="#1a1a1a" stroke="#222" stroke-width="0.22">1.2</text>
<line x1="256.8" y1="433.1" x2="260.8" y2="433.1" stroke="#777" stroke-width="0.8"/>
<text transform="translate(254.4 438.0) scale(1.07 1)" font-size="10" font-weight="normal" text-anchor="end" fill="#1a1a1a" stroke="#222" stroke-width="0.22">1.8</text>
<line x1="256.8" y1="420" x2="260.8" y2="420" stroke="#777" stroke-width="0.8"/>
<text transform="translate(254.4 424.9) scale(1.07 1)" font-size="10" font-weight="normal" text-anchor="end" fill="#1a1a1a" stroke="#222" stroke-width="0.22">2.4</text>
<line x1="256.8" y1="406.9" x2="260.8" y2="406.9" stroke="#333" stroke-width="0.8"/>
<text transform="translate(254.4 411.8) scale(1.07 1)" font-size="10" font-weight="normal" text-anchor="end" fill="#1a1a1a" stroke="#222" stroke-width="0.22">3.0</text>
<line x1="260.8" y1="472.4" x2="260.8" y2="475.7" stroke="#777" stroke-width="0.8"/>
<line x1="284.47" y1="472.4" x2="284.47" y2="475.7" stroke="#777" stroke-width="0.8"/>
<line x1="308.21" y1="472.4" x2="308.21" y2="475.7" stroke="#777" stroke-width="0.8"/>
<line x1="331.95" y1="472.4" x2="331.95" y2="475.7" stroke="#777" stroke-width="0.8"/>
<line x1="355.69" y1="472.4" x2="355.69" y2="475.7" stroke="#777" stroke-width="0.8"/>
<line x1="379.43" y1="472.4" x2="379.43" y2="475.7" stroke="#777" stroke-width="0.8"/>
<line x1="403.17" y1="472.4" x2="403.17" y2="475.7" stroke="#777" stroke-width="0.8"/>
<line x1="272.6" y1="438.3" x2="272.6" y2="442.44" stroke="#666" stroke-width="0.9"/>
<line x1="271" y1="438.3" x2="274.2" y2="438.3" stroke="#666" stroke-width="0.9"/>
<rect x="268.90" y="442.44" width="7.4" height="29.96" fill="#8e8e8e" stroke="#444" stroke-width="0.8"/>
<line x1="296.34" y1="416.18" x2="296.34" y2="421.64" stroke="#666" stroke-width="0.9"/>
<line x1="294.74" y1="416.18" x2="297.94" y2="416.18" stroke="#666" stroke-width="0.9"/>
<rect x="292.64" y="421.64" width="7.4" height="50.76" fill="#8e8e8e" stroke="#444" stroke-width="0.8"/>
<text transform="translate(296.84 417.1) scale(1.15 1)" font-size="9.2" font-weight="bold" text-anchor="middle" fill="#222" letter-spacing="1.0" stroke="#222" stroke-width="0.25">**</text>
<line x1="320.08" y1="420.22" x2="320.08" y2="426.33" stroke="#666" stroke-width="0.9"/>
<line x1="318.48" y1="420.22" x2="321.68" y2="420.22" stroke="#666" stroke-width="0.9"/>
<rect x="316.38" y="426.33" width="7.4" height="46.07" fill="#8e8e8e" stroke="#444" stroke-width="0.8"/>
<text transform="translate(320.58 421.0) scale(1.15 1)" font-size="9.2" font-weight="bold" text-anchor="middle" fill="#222" letter-spacing="1.0" stroke="#222" stroke-width="0.25">**</text>
<line x1="343.82" y1="427.18" x2="343.82" y2="429.96" stroke="#666" stroke-width="0.9"/>
<line x1="342.22" y1="427.18" x2="345.42" y2="427.18" stroke="#666" stroke-width="0.9"/>
<rect x="340.12" y="429.96" width="7.4" height="42.44" fill="#8e8e8e" stroke="#444" stroke-width="0.8"/>
<text transform="translate(344.32 427.9) scale(1.15 1)" font-size="9.2" font-weight="bold" text-anchor="middle" fill="#222" letter-spacing="1.0" stroke="#222" stroke-width="0.25">**</text>
<line x1="367.56" y1="426.4" x2="367.56" y2="432.23" stroke="#666" stroke-width="0.9"/>
<line x1="365.96" y1="426.4" x2="369.16" y2="426.4" stroke="#666" stroke-width="0.9"/>
<rect x="363.86" y="432.23" width="7.4" height="40.17" fill="#8e8e8e" stroke="#444" stroke-width="0.8"/>
<text transform="translate(368.06 427.1) scale(1.15 1)" font-size="9.2" font-weight="bold" text-anchor="middle" fill="#222" letter-spacing="1.0" stroke="#222" stroke-width="0.25">*</text>
<line x1="391.3" y1="431.07" x2="391.3" y2="431.62" stroke="#666" stroke-width="0.9"/>
<line x1="389.7" y1="431.07" x2="392.9" y2="431.07" stroke="#666" stroke-width="0.9"/>
<rect x="387.60" y="431.62" width="7.4" height="40.78" fill="#8e8e8e" stroke="#444" stroke-width="0.8"/>
<text transform="translate(391.8 431.9) scale(1.15 1)" font-size="9.2" font-weight="bold" text-anchor="middle" fill="#222" letter-spacing="1.0" stroke="#222" stroke-width="0.25">*</text>
<text transform="translate(272.6 483.8) scale(1.07 1)" font-size="10" font-weight="normal" text-anchor="middle" fill="#1a1a1a" letter-spacing="0.3" stroke="#222" stroke-width="0.22">0</text>
<text transform="translate(296.34 483.8) scale(1.07 1)" font-size="10" font-weight="normal" text-anchor="middle" fill="#1a1a1a" letter-spacing="0.3" stroke="#222" stroke-width="0.22">1</text>
<text transform="translate(320.08 483.8) scale(1.07 1)" font-size="10" font-weight="normal" text-anchor="middle" fill="#1a1a1a" letter-spacing="0.3" stroke="#222" stroke-width="0.22">2.5</text>
<text transform="translate(343.82 483.8) scale(1.07 1)" font-size="10" font-weight="normal" text-anchor="middle" fill="#1a1a1a" letter-spacing="0.3" stroke="#222" stroke-width="0.22">5</text>
<text transform="translate(367.56 483.8) scale(1.07 1)" font-size="10" font-weight="normal" text-anchor="middle" fill="#1a1a1a" letter-spacing="0.3" stroke="#222" stroke-width="0.22">8</text>
<text transform="translate(391.3 483.8) scale(1.07 1)" font-size="10" font-weight="normal" text-anchor="middle" fill="#1a1a1a" letter-spacing="0.3" stroke="#222" stroke-width="0.22">10</text>
<line x1="268.2" y1="487" x2="400.3" y2="487" stroke="#222" stroke-width="1.1"/>
<text transform="translate(331.4 500.3) scale(1.08 1)" font-size="11.6" font-weight="normal" text-anchor="middle" fill="#1a1a1a" letter-spacing="0.25" stroke="#222" stroke-width="0.22">GlcN, mM</text>
<text transform="translate(232.4 438.2) rotate(-90) scale(1.1 1)" font-size="11.6" font-weight="normal" text-anchor="middle" fill="#1a1a1a" letter-spacing="0.2" stroke="#222" stroke-width="0.22">subG1, %</text>
<text x="332.8" y="396.6" font-size="11.5" font-weight="normal" text-anchor="middle" fill="#1a1a1a" letter-spacing="0.3"><tspan font-style="italic">p</tspan>(ANOVA)=1.4×10<tspan font-size="5.8" dy="-5.4">-3</tspan></text>
<line x1="505.4" y1="393" x2="505.4" y2="468.6" stroke="#222" stroke-width="0.9"/>
<line x1="505" y1="468.2" x2="648.3" y2="468.2" stroke="#222" stroke-width="0.9"/>
<line x1="501" y1="468.2" x2="505.4" y2="468.2" stroke="#333" stroke-width="0.8"/>
<text transform="translate(498.8 473.3) scale(1.07 1)" font-size="10" font-weight="normal" text-anchor="end" fill="#1a1a1a" stroke="#222" stroke-width="0.22">0</text>
<line x1="501" y1="453.24" x2="505.4" y2="453.24" stroke="#777" stroke-width="0.8"/>
<text transform="translate(498.8 458.34) scale(1.07 1)" font-size="10" font-weight="normal" text-anchor="end" fill="#1a1a1a" stroke="#222" stroke-width="0.22">10</text>
<line x1="501" y1="438.28" x2="505.4" y2="438.28" stroke="#777" stroke-width="0.8"/>
<text transform="translate(498.8 443.38) scale(1.07 1)" font-size="10" font-weight="normal" text-anchor="end" fill="#1a1a1a" stroke="#222" stroke-width="0.22">20</text>
<line x1="501" y1="423.32" x2="505.4" y2="423.32" stroke="#777" stroke-width="0.8"/>
<text transform="translate(498.8 428.42) scale(1.07 1)" font-size="10" font-weight="normal" text-anchor="end" fill="#1a1a1a" stroke="#222" stroke-width="0.22">30</text>
<line x1="501" y1="408.36" x2="505.4" y2="408.36" stroke="#777" stroke-width="0.8"/>
<text transform="translate(498.8 413.46) scale(1.07 1)" font-size="10" font-weight="normal" text-anchor="end" fill="#1a1a1a" stroke="#222" stroke-width="0.22">40</text>
<line x1="501" y1="393.4" x2="505.4" y2="393.4" stroke="#333" stroke-width="0.8"/>
<text transform="translate(498.8 398.5) scale(1.07 1)" font-size="10" font-weight="normal" text-anchor="end" fill="#1a1a1a" stroke="#222" stroke-width="0.22">50</text>
<line x1="505.4" y1="468.2" x2="505.4" y2="471.5" stroke="#777" stroke-width="0.8"/>
<line x1="529.07" y1="468.2" x2="529.07" y2="471.5" stroke="#777" stroke-width="0.8"/>
<line x1="552.81" y1="468.2" x2="552.81" y2="471.5" stroke="#777" stroke-width="0.8"/>
<line x1="576.55" y1="468.2" x2="576.55" y2="471.5" stroke="#777" stroke-width="0.8"/>
<line x1="600.29" y1="468.2" x2="600.29" y2="471.5" stroke="#777" stroke-width="0.8"/>
<line x1="624.03" y1="468.2" x2="624.03" y2="471.5" stroke="#777" stroke-width="0.8"/>
<line x1="647.77" y1="468.2" x2="647.77" y2="471.5" stroke="#777" stroke-width="0.8"/>
<line x1="517.2" y1="419.58" x2="517.2" y2="421.08" stroke="#666" stroke-width="0.9"/>
<line x1="515.6" y1="419.58" x2="518.8" y2="419.58" stroke="#666" stroke-width="0.9"/>
<rect x="513.60" y="421.08" width="7.2" height="47.12" fill="#000" stroke="#000" stroke-width="0.8"/>
<line x1="540.94" y1="422.27" x2="540.94" y2="422.57" stroke="#666" stroke-width="0.9"/>
<line x1="539.34" y1="422.27" x2="542.54" y2="422.27" stroke="#666" stroke-width="0.9"/>
<rect x="537.34" y="422.57" width="7.2" height="45.63" fill="#000" stroke="#000" stroke-width="0.8"/>
<line x1="564.68" y1="413.45" x2="564.68" y2="414.04" stroke="#666" stroke-width="0.9"/>
<line x1="563.08" y1="413.45" x2="566.28" y2="413.45" stroke="#666" stroke-width="0.9"/>
<rect x="561.08" y="414.04" width="7.2" height="54.16" fill="#000" stroke="#000" stroke-width="0.8"/>
<text transform="translate(565.18 413.3) scale(1.15 1)" font-size="9.2" font-weight="bold" text-anchor="middle" fill="#222" letter-spacing="1.0" stroke="#222" stroke-width="0.25">**</text>
<line x1="588.42" y1="404.92" x2="588.42" y2="406.12" stroke="#666" stroke-width="0.9"/>
<line x1="586.82" y1="404.92" x2="590.02" y2="404.92" stroke="#666" stroke-width="0.9"/>
<rect x="584.82" y="406.12" width="7.2" height="62.08" fill="#000" stroke="#000" stroke-width="0.8"/>
<text transform="translate(588.92 405.0) scale(1.15 1)" font-size="9.2" font-weight="bold" text-anchor="middle" fill="#222" letter-spacing="1.0" stroke="#222" stroke-width="0.25">***</text>
<line x1="612.16" y1="399.83" x2="612.16" y2="401.63" stroke="#666" stroke-width="0.9"/>
<line x1="610.56" y1="399.83" x2="613.76" y2="399.83" stroke="#666" stroke-width="0.9"/>
<rect x="608.56" y="401.63" width="7.2" height="66.57" fill="#000" stroke="#000" stroke-width="0.8"/>
<text transform="translate(612.66 399.5) scale(1.15 1)" font-size="9.2" font-weight="bold" text-anchor="middle" fill="#222" letter-spacing="1.0" stroke="#222" stroke-width="0.25">***</text>
<line x1="635.9" y1="404.02" x2="635.9" y2="407.61" stroke="#666" stroke-width="0.9"/>
<line x1="634.3" y1="404.02" x2="637.5" y2="404.02" stroke="#666" stroke-width="0.9"/>
<rect x="632.30" y="407.61" width="7.2" height="60.59" fill="#000" stroke="#000" stroke-width="0.8"/>
<text transform="translate(636.4 404.4) scale(1.15 1)" font-size="9.2" font-weight="bold" text-anchor="middle" fill="#222" letter-spacing="1.0" stroke="#222" stroke-width="0.25">**</text>
<text transform="translate(517.2 480.4) scale(1.07 1)" font-size="10" font-weight="normal" text-anchor="middle" fill="#1a1a1a" letter-spacing="0.3" stroke="#222" stroke-width="0.22">0</text>
<text transform="translate(540.94 480.4) scale(1.07 1)" font-size="10" font-weight="normal" text-anchor="middle" fill="#1a1a1a" letter-spacing="0.3" stroke="#222" stroke-width="0.22">1</text>
<text transform="translate(564.68 480.4) scale(1.07 1)" font-size="10" font-weight="normal" text-anchor="middle" fill="#1a1a1a" letter-spacing="0.3" stroke="#222" stroke-width="0.22">2.5</text>
<text transform="translate(588.42 480.4) scale(1.07 1)" font-size="10" font-weight="normal" text-anchor="middle" fill="#1a1a1a" letter-spacing="0.3" stroke="#222" stroke-width="0.22">5</text>
<text transform="translate(612.16 480.4) scale(1.07 1)" font-size="10" font-weight="normal" text-anchor="middle" fill="#1a1a1a" letter-spacing="0.3" stroke="#222" stroke-width="0.22">8</text>
<text transform="translate(635.9 480.4) scale(1.07 1)" font-size="10" font-weight="normal" text-anchor="middle" fill="#1a1a1a" letter-spacing="0.3" stroke="#222" stroke-width="0.22">10</text>
<line x1="513.2" y1="483.6" x2="648.7" y2="483.6" stroke="#222" stroke-width="1.1"/>
<text transform="translate(577.2 499.2) scale(1.08 1)" font-size="11.6" font-weight="normal" text-anchor="middle" fill="#1a1a1a" letter-spacing="0.25" stroke="#222" stroke-width="0.22">GlcN, mM</text>
<text transform="translate(470 430.9) rotate(-90) scale(1.1 1)" font-size="11.8" font-weight="normal" text-anchor="middle" fill="#1a1a1a" letter-spacing="0.2" stroke="#222" stroke-width="0.22">FITC-BrdU</text>
<text transform="translate(482 432) rotate(-90) scale(1.1 1)" font-size="9.0" font-weight="normal" text-anchor="middle" fill="#1a1a1a" letter-spacing="0.2" stroke="#222" stroke-width="0.22">(% of M1-Gated)</text>
<text x="576.9" y="386.7" font-size="11.5" font-weight="normal" text-anchor="middle" fill="#1a1a1a" letter-spacing="0.3"><tspan font-style="italic">p</tspan>(ANOVA)=4.7×10<tspan font-size="5.8" dy="-5.4">-8</tspan></text>
<line x1="424.8" y1="563.9" x2="424.8" y2="634.9" stroke="#222" stroke-width="0.9"/>
<line x1="424.4" y1="634.5" x2="567.6" y2="634.5" stroke="#222" stroke-width="0.9"/>
<line x1="422.6" y1="634.5" x2="424.8" y2="634.5" stroke="#333" stroke-width="0.8"/>
<text transform="translate(421.1 639.65) scale(1.07 1)" font-size="10" font-weight="normal" text-anchor="end" fill="#1a1a1a" stroke="#222" stroke-width="0.22">0</text>
<line x1="422.6" y1="620.46" x2="424.8" y2="620.46" stroke="#777" stroke-width="0.8"/>
<text transform="translate(421.1 625.61) scale(1.07 1)" font-size="10" font-weight="normal" text-anchor="end" fill="#1a1a1a" stroke="#222" stroke-width="0.22">10</text>
<line x1="422.6" y1="606.42" x2="424.8" y2="606.42" stroke="#777" stroke-width="0.8"/>
<text transform="translate(421.1 611.57) scale(1.07 1)" font-size="10" font-weight="normal" text-anchor="end" fill="#1a1a1a" stroke="#222" stroke-width="0.22">20</text>
<line x1="422.6" y1="592.38" x2="424.8" y2="592.38" stroke="#777" stroke-width="0.8"/>
<text transform="translate(421.1 597.53) scale(1.07 1)" font-size="10" font-weight="normal" text-anchor="end" fill="#1a1a1a" stroke="#222" stroke-width="0.22">30</text>
<line x1="422.6" y1="578.34" x2="424.8" y2="578.34" stroke="#777" stroke-width="0.8"/>
<text transform="translate(421.1 583.49) scale(1.07 1)" font-size="10" font-weight="normal" text-anchor="end" fill="#1a1a1a" stroke="#222" stroke-width="0.22">40</text>
<line x1="422.6" y1="564.3" x2="424.8" y2="564.3" stroke="#333" stroke-width="0.8"/>
<text transform="translate(421.1 569.05) scale(1.07 1)" font-size="10" font-weight="normal" text-anchor="end" fill="#1a1a1a" stroke="#222" stroke-width="0.22">50</text>
<line x1="436.6" y1="574.41" x2="436.6" y2="574.69" stroke="#666" stroke-width="0.9"/>
<line x1="435" y1="574.41" x2="438.2" y2="574.41" stroke="#666" stroke-width="0.9"/>
<rect x="433.00" y="574.69" width="7.2" height="59.81" fill="#000" stroke="#000" stroke-width="0.8"/>
<line x1="460.4" y1="573.15" x2="460.4" y2="574.69" stroke="#666" stroke-width="0.9"/>
<line x1="458.8" y1="573.15" x2="462" y2="573.15" stroke="#666" stroke-width="0.9"/>
<rect x="456.80" y="574.69" width="7.2" height="59.81" fill="#000" stroke="#000" stroke-width="0.8"/>
<line x1="484.2" y1="573.15" x2="484.2" y2="576.23" stroke="#666" stroke-width="0.9"/>
<line x1="482.6" y1="573.15" x2="485.8" y2="573.15" stroke="#666" stroke-width="0.9"/>
<rect x="480.60" y="576.23" width="7.2" height="58.27" fill="#000" stroke="#000" stroke-width="0.8"/>
<line x1="508" y1="576.66" x2="508" y2="576.94" stroke="#666" stroke-width="0.9"/>
<line x1="506.4" y1="576.66" x2="509.6" y2="576.66" stroke="#666" stroke-width="0.9"/>
<rect x="504.40" y="576.94" width="7.2" height="57.56" fill="#000" stroke="#000" stroke-width="0.8"/>
<line x1="531.8" y1="575.53" x2="531.8" y2="575.95" stroke="#666" stroke-width="0.9"/>
<line x1="530.2" y1="575.53" x2="533.4" y2="575.53" stroke="#666" stroke-width="0.9"/>
<rect x="528.20" y="575.95" width="7.2" height="58.55" fill="#000" stroke="#000" stroke-width="0.8"/>
<line x1="555.6" y1="575.39" x2="555.6" y2="575.67" stroke="#666" stroke-width="0.9"/>
<line x1="554" y1="575.39" x2="557.2" y2="575.39" stroke="#666" stroke-width="0.9"/>
<rect x="552.00" y="575.67" width="7.2" height="58.83" fill="#000" stroke="#000" stroke-width="0.8"/>
<text transform="translate(436.6 649.8) scale(1.07 1)" font-size="10" font-weight="normal" text-anchor="middle" fill="#1a1a1a" letter-spacing="0.3" stroke="#222" stroke-width="0.22">17.5</text>
<text transform="translate(460.4 649.8) scale(1.07 1)" font-size="10" font-weight="normal" text-anchor="middle" fill="#1a1a1a" letter-spacing="0.3" stroke="#222" stroke-width="0.22">25</text>
<text transform="translate(484.2 649.8) scale(1.07 1)" font-size="10" font-weight="normal" text-anchor="middle" fill="#1a1a1a" letter-spacing="0.3" stroke="#222" stroke-width="0.22">30</text>
<text transform="translate(508.0 649.8) scale(1.07 1)" font-size="10" font-weight="normal" text-anchor="middle" fill="#1a1a1a" letter-spacing="0.3" stroke="#222" stroke-width="0.22">35</text>
<text transform="translate(531.8 649.8) scale(1.07 1)" font-size="10" font-weight="normal" text-anchor="middle" fill="#1a1a1a" letter-spacing="0.3" stroke="#222" stroke-width="0.22">40</text>
<text transform="translate(555.6 649.8) scale(1.07 1)" font-size="10" font-weight="normal" text-anchor="middle" fill="#1a1a1a" letter-spacing="0.3" stroke="#222" stroke-width="0.22">50</text>
<line x1="422.9" y1="654.1" x2="566.1" y2="654.1" stroke="#222" stroke-width="1.1"/>
<text transform="translate(491.6 667.6) scale(1.08 1)" font-size="11.6" font-weight="normal" text-anchor="middle" fill="#1a1a1a" letter-spacing="0.25" stroke="#222" stroke-width="0.22">Glucose, mM</text>
<text transform="translate(391.2 601) rotate(-90) scale(1.1 1)" font-size="11.8" font-weight="normal" text-anchor="middle" fill="#1a1a1a" letter-spacing="0.2" stroke="#222" stroke-width="0.22">FITC-BrdU</text>
<text transform="translate(402.6 601.3) rotate(-90) scale(1.1 1)" font-size="9.0" font-weight="normal" text-anchor="middle" fill="#1a1a1a" letter-spacing="0.2" stroke="#222" stroke-width="0.22">(% of M1-Gated)</text>
<text transform="translate(496 563.4) scale(1.1 1)" font-size="9.8" font-weight="normal" text-anchor="middle" fill="#1a1a1a" stroke="#222" stroke-width="0.22">Vehicle</text>
<path d="M454.4,332.9L454.4,328.2L455.1,327.6L455.7,326.0L456.4,323.6L457.1,320.4L457.7,316.5L458.4,312.2L459.1,307.7L459.7,303.6L460.4,300.2L461.1,297.9L461.7,297.1L462.4,298.4L463.1,302.4L463.7,308.1L464.4,314.3L465.1,320.1L465.7,324.8L466.4,328.2L467.1,330.4L467.7,331.7L468.4,332.3L469.1,332.7L469.7,332.8L470.4,332.9L518.4,332.9Z" fill="#000"/>
<rect x="454.4" y="278.1" width="64" height="54.8" fill="none" stroke="#222" stroke-width="1.1"/>
<line x1="451.6" y1="332.9" x2="454.4" y2="332.9" stroke="#333" stroke-width="0.8"/>
<text x="450.8" y="335.7" font-size="7.8" font-weight="normal" text-anchor="end" fill="#222" stroke="#222" stroke-width="0.22">0</text>
<line x1="451.6" y1="321.94" x2="454.4" y2="321.94" stroke="#333" stroke-width="0.8"/>
<text x="450.8" y="324.74" font-size="7.8" font-weight="normal" text-anchor="end" fill="#222" stroke="#222" stroke-width="0.22">30</text>
<line x1="451.6" y1="310.98" x2="454.4" y2="310.98" stroke="#333" stroke-width="0.8"/>
<text x="450.8" y="313.78" font-size="7.8" font-weight="normal" text-anchor="end" fill="#222" stroke="#222" stroke-width="0.22">60</text>
<line x1="451.6" y1="300.02" x2="454.4" y2="300.02" stroke="#333" stroke-width="0.8"/>
<text x="450.8" y="302.82" font-size="7.8" font-weight="normal" text-anchor="end" fill="#222" stroke="#222" stroke-width="0.22">90</text>
<line x1="451.6" y1="289.06" x2="454.4" y2="289.06" stroke="#333" stroke-width="0.8"/>
<text x="450.8" y="291.86" font-size="7.8" font-weight="normal" text-anchor="end" fill="#222" stroke="#222" stroke-width="0.22">120</text>
<line x1="451.6" y1="278.1" x2="454.4" y2="278.1" stroke="#333" stroke-width="0.8"/>
<text x="450.8" y="280.9" font-size="7.8" font-weight="normal" text-anchor="end" fill="#222" stroke="#222" stroke-width="0.22">150</text>
<line x1="454.4" y1="332.9" x2="454.4" y2="334.9" stroke="#333" stroke-width="0.7"/>
<text x="453.9" y="341.5" font-size="6.2" font-weight="normal" text-anchor="middle" fill="#333" stroke="#333" stroke-width="0.15">10<tspan font-size="3.6" dy="-2.6">0</tspan></text>
<line x1="470.4" y1="332.9" x2="470.4" y2="334.9" stroke="#333" stroke-width="0.7"/>
<text x="469.9" y="341.5" font-size="6.2" font-weight="normal" text-anchor="middle" fill="#333" stroke="#333" stroke-width="0.15">10<tspan font-size="3.6" dy="-2.6">1</tspan></text>
<line x1="486.4" y1="332.9" x2="486.4" y2="334.9" stroke="#333" stroke-width="0.7"/>
<text x="485.9" y="341.5" font-size="6.2" font-weight="normal" text-anchor="middle" fill="#333" stroke="#333" stroke-width="0.15">10<tspan font-size="3.6" dy="-2.6">2</tspan></text>
<line x1="502.4" y1="332.9" x2="502.4" y2="334.9" stroke="#333" stroke-width="0.7"/>
<text x="501.9" y="341.5" font-size="6.2" font-weight="normal" text-anchor="middle" fill="#333" stroke="#333" stroke-width="0.15">10<tspan font-size="3.6" dy="-2.6">3</tspan></text>
<line x1="518.4" y1="332.9" x2="518.4" y2="334.9" stroke="#333" stroke-width="0.7"/>
<text x="517.9" y="341.5" font-size="6.2" font-weight="normal" text-anchor="middle" fill="#333" stroke="#333" stroke-width="0.15">10<tspan font-size="3.6" dy="-2.6">4</tspan></text>
<text x="487.2" y="350.1" font-size="6.3" font-weight="bold" text-anchor="middle" fill="#555">FITC-BrdU</text>
<text x="483.3" y="272" font-size="9.2" font-weight="normal" text-anchor="middle" fill="#222" stroke="#222" stroke-width="0.22">Unstain</text>
<text transform="translate(433.6 305.4) rotate(-90)" font-size="7.8" font-weight="normal" text-anchor="middle" fill="#222" stroke="#222" stroke-width="0.22">Counts</text>
<line x1="467.9" y1="287.4" x2="517.9" y2="287.4" stroke="#444" stroke-width="0.9"/>
<line x1="467.9" y1="285.2" x2="467.9" y2="289.6" stroke="#444" stroke-width="0.9"/>
<line x1="517.9" y1="285.2" x2="517.9" y2="289.6" stroke="#444" stroke-width="0.9"/>
<text x="493.2" y="286.6" font-size="4.5" font-weight="normal" text-anchor="middle" fill="#444" stroke="#444" stroke-width="0.2">M1</text>
<path d="M527.4,332.9L527.4,330.1L528.1,330.2L528.7,329.7L529.4,328.5L530.1,326.7L530.8,324.1L531.4,321.0L532.1,317.6L532.8,314.4L533.4,311.9L534.1,310.5L534.8,310.4L535.5,312.0L536.1,314.7L536.8,317.9L537.5,320.9L538.1,323.4L538.8,325.1L539.5,326.1L540.2,326.6L540.8,326.7L541.5,326.6L542.2,326.4L542.8,326.2L543.5,326.1L544.2,326.1L544.9,326.1L545.5,326.3L546.2,326.5L546.9,326.8L547.5,327.1L548.2,327.4L548.9,327.8L549.6,328.2L550.2,328.5L550.9,328.9L551.6,329.2L552.2,329.5L552.9,329.7L553.6,330.0L554.3,330.2L554.9,330.3L555.6,330.5L556.3,330.6L556.9,330.7L557.6,330.9L558.3,331.0L559.0,331.1L559.6,331.2L560.3,331.2L561.0,331.3L561.7,331.4L562.3,331.5L563.0,331.6L563.7,331.7L564.3,331.7L565.0,331.8L565.7,331.9L566.4,332.0L567.0,332.0L567.7,332.1L568.4,332.1L569.0,332.2L569.7,332.2L570.4,332.3L571.1,332.3L571.7,332.4L572.4,332.4L573.1,332.5L573.7,332.5L574.4,332.5L575.1,332.6L575.8,332.6L576.4,332.6L577.1,332.6L577.8,332.7L578.4,332.7L579.1,332.7L579.8,332.7L580.5,332.7L581.1,332.8L581.8,332.8L582.5,332.8L583.1,332.8L583.8,332.8L584.5,332.8L585.2,332.8L585.8,332.8L586.5,332.8L591.2,332.9Z" fill="#000"/>
<rect x="527.4" y="278.1" width="63.8" height="54.8" fill="none" stroke="#222" stroke-width="1.1"/>
<line x1="524.6" y1="332.9" x2="527.4" y2="332.9" stroke="#333" stroke-width="0.8"/>
<line x1="524.6" y1="321.94" x2="527.4" y2="321.94" stroke="#333" stroke-width="0.8"/>
<line x1="524.6" y1="310.98" x2="527.4" y2="310.98" stroke="#333" stroke-width="0.8"/>
<line x1="524.6" y1="300.02" x2="527.4" y2="300.02" stroke="#333" stroke-width="0.8"/>
<line x1="524.6" y1="289.06" x2="527.4" y2="289.06" stroke="#333" stroke-width="0.8"/>
<line x1="524.6" y1="278.1" x2="527.4" y2="278.1" stroke="#333" stroke-width="0.8"/>
<line x1="527.4" y1="332.9" x2="527.4" y2="334.9" stroke="#333" stroke-width="0.7"/>
<text x="526.9" y="341.5" font-size="6.2" font-weight="normal" text-anchor="middle" fill="#333" stroke="#333" stroke-width="0.15">10<tspan font-size="3.6" dy="-2.6">0</tspan></text>
<line x1="543.35" y1="332.9" x2="543.35" y2="334.9" stroke="#333" stroke-width="0.7"/>
<text x="542.85" y="341.5" font-size="6.2" font-weight="normal" text-anchor="middle" fill="#333" stroke="#333" stroke-width="0.15">10<tspan font-size="3.6" dy="-2.6">1</tspan></text>
<line x1="559.3" y1="332.9" x2="559.3" y2="334.9" stroke="#333" stroke-width="0.7"/>
<text x="558.8" y="341.5" font-size="6.2" font-weight="normal" text-anchor="middle" fill="#333" stroke="#333" stroke-width="0.15">10<tspan font-size="3.6" dy="-2.6">2</tspan></text>
<line x1="575.25" y1="332.9" x2="575.25" y2="334.9" stroke="#333" stroke-width="0.7"/>
<text x="574.75" y="341.5" font-size="6.2" font-weight="normal" text-anchor="middle" fill="#333" stroke="#333" stroke-width="0.15">10<tspan font-size="3.6" dy="-2.6">3</tspan></text>
<line x1="591.2" y1="332.9" x2="591.2" y2="334.9" stroke="#333" stroke-width="0.7"/>
<text x="590.7" y="341.5" font-size="6.2" font-weight="normal" text-anchor="middle" fill="#333" stroke="#333" stroke-width="0.15">10<tspan font-size="3.6" dy="-2.6">4</tspan></text>
<text x="560.4" y="350.1" font-size="6.3" font-weight="bold" text-anchor="middle" fill="#555">FITC-BrdU</text>
<text x="559" y="270.8" font-size="9.0" font-weight="normal" text-anchor="middle" fill="#222" stroke="#222" stroke-width="0.22">GlcN, 0 mM</text>
<line x1="540.6" y1="287.3" x2="591.2" y2="287.3" stroke="#444" stroke-width="0.9"/>
<line x1="540.6" y1="285.1" x2="540.6" y2="289.5" stroke="#444" stroke-width="0.9"/>
<line x1="591.2" y1="285.1" x2="591.2" y2="289.5" stroke="#444" stroke-width="0.9"/>
<text x="566.8" y="286.6" font-size="4.5" font-weight="normal" text-anchor="middle" fill="#444" stroke="#444" stroke-width="0.2">M1</text>
<text x="565.9" y="297.7" font-size="7.6" font-weight="normal" text-anchor="middle" fill="#333" letter-spacing="0.2" stroke="#222" stroke-width="0.22">31.8%</text>
<path d="M600.6,332.9L600.6,330.8L601.3,331.2L601.9,331.1L602.6,330.5L603.3,329.3L604.0,327.6L604.6,325.3L605.3,322.6L606.0,319.7L606.6,317.2L607.3,315.4L608.0,314.6L608.6,315.2L609.3,317.3L610.0,320.3L610.7,323.6L611.3,326.7L612.0,329.1L612.7,330.8L613.3,331.8L614.0,332.4L614.7,332.7L615.3,332.8L616.0,332.9L621.4,332.8L622.0,332.7L622.7,332.6L623.4,332.3L624.1,331.8L624.7,331.0L625.4,329.9L626.1,328.5L626.7,326.9L627.4,325.1L628.1,323.5L628.7,322.2L629.4,321.6L630.1,321.6L630.8,321.9L631.4,322.3L632.1,322.9L632.8,323.7L633.4,324.5L634.1,325.4L634.8,326.4L635.4,327.3L636.1,328.2L636.8,329.0L637.5,329.8L638.1,330.4L638.8,330.9L639.5,331.4L640.1,331.8L640.8,332.1L641.5,332.3L642.1,332.5L642.8,332.6L643.5,332.7L644.2,332.8L644.8,332.8L645.5,332.8L665.6,332.9Z" fill="#000"/>
<rect x="600.6" y="278.1" width="65" height="54.8" fill="none" stroke="#222" stroke-width="1.1"/>
<line x1="597.8" y1="332.9" x2="600.6" y2="332.9" stroke="#333" stroke-width="0.8"/>
<line x1="597.8" y1="321.94" x2="600.6" y2="321.94" stroke="#333" stroke-width="0.8"/>
<line x1="597.8" y1="310.98" x2="600.6" y2="310.98" stroke="#333" stroke-width="0.8"/>
<line x1="597.8" y1="300.02" x2="600.6" y2="300.02" stroke="#333" stroke-width="0.8"/>
<line x1="597.8" y1="289.06" x2="600.6" y2="289.06" stroke="#333" stroke-width="0.8"/>
<line x1="597.8" y1="278.1" x2="600.6" y2="278.1" stroke="#333" stroke-width="0.8"/>
<line x1="600.6" y1="332.9" x2="600.6" y2="334.9" stroke="#333" stroke-width="0.7"/>
<text x="600.1" y="341.5" font-size="6.2" font-weight="normal" text-anchor="middle" fill="#333" stroke="#333" stroke-width="0.15">10<tspan font-size="3.6" dy="-2.6">0</tspan></text>
<line x1="616.85" y1="332.9" x2="616.85" y2="334.9" stroke="#333" stroke-width="0.7"/>
<text x="616.35" y="341.5" font-size="6.2" font-weight="normal" text-anchor="middle" fill="#333" stroke="#333" stroke-width="0.15">10<tspan font-size="3.6" dy="-2.6">1</tspan></text>
<line x1="633.1" y1="332.9" x2="633.1" y2="334.9" stroke="#333" stroke-width="0.7"/>
<text x="632.6" y="341.5" font-size="6.2" font-weight="normal" text-anchor="middle" fill="#333" stroke="#333" stroke-width="0.15">10<tspan font-size="3.6" dy="-2.6">2</tspan></text>
<line x1="649.35" y1="332.9" x2="649.35" y2="334.9" stroke="#333" stroke-width="0.7"/>
<text x="648.85" y="341.5" font-size="6.2" font-weight="normal" text-anchor="middle" fill="#333" stroke="#333" stroke-width="0.15">10<tspan font-size="3.6" dy="-2.6">3</tspan></text>
<line x1="665.6" y1="332.9" x2="665.6" y2="334.9" stroke="#333" stroke-width="0.7"/>
<text x="665.1" y="341.5" font-size="6.2" font-weight="normal" text-anchor="middle" fill="#333" stroke="#333" stroke-width="0.15">10<tspan font-size="3.6" dy="-2.6">4</tspan></text>
<text x="634.9" y="350.1" font-size="6.3" font-weight="bold" text-anchor="middle" fill="#555">FITC-BrdU</text>
<text x="632.3" y="270.8" font-size="9.0" font-weight="normal" text-anchor="middle" fill="#222" stroke="#222" stroke-width="0.22">GlcN, 8 mM</text>
<line x1="615" y1="287.3" x2="665.7" y2="287.3" stroke="#444" stroke-width="0.9"/>
<line x1="615" y1="285.1" x2="615" y2="289.5" stroke="#444" stroke-width="0.9"/>
<line x1="665.7" y1="285.1" x2="665.7" y2="289.5" stroke="#444" stroke-width="0.9"/>
<text x="640" y="286.6" font-size="4.5" font-weight="normal" text-anchor="middle" fill="#444" stroke="#444" stroke-width="0.2">M1</text>
<text x="639.8" y="297.7" font-size="7.6" font-weight="normal" text-anchor="middle" fill="#333" letter-spacing="0.2" stroke="#222" stroke-width="0.22">44.6%</text>
<path d="M139.3,643.1L139.3,641.9L140.0,641.7L140.6,641.0L141.3,639.6L142.0,637.5L142.7,634.6L143.3,630.8L144.0,626.4L144.7,621.8L145.3,617.4L146.0,613.7L146.7,611.2L147.4,610.4L148.0,611.6L148.7,614.2L149.4,617.5L150.0,621.3L150.7,624.9L151.4,628.1L152.0,630.9L152.7,633.5L153.4,635.8L154.1,637.7L154.7,639.4L155.4,640.6L156.1,641.5L156.7,642.2L157.4,642.6L158.1,642.8L158.8,643.0L159.4,643.0L160.1,643.1L203.7,643.1Z" fill="#000"/>
<rect x="139.3" y="588.1" width="64.4" height="55" fill="none" stroke="#222" stroke-width="1.1"/>
<line x1="136.5" y1="643.1" x2="139.3" y2="643.1" stroke="#333" stroke-width="0.8"/>
<text x="135.7" y="645.9" font-size="7.8" font-weight="normal" text-anchor="end" fill="#222" stroke="#222" stroke-width="0.22">0</text>
<line x1="136.5" y1="632.1" x2="139.3" y2="632.1" stroke="#333" stroke-width="0.8"/>
<text x="135.7" y="634.9" font-size="7.8" font-weight="normal" text-anchor="end" fill="#222" stroke="#222" stroke-width="0.22">30</text>
<line x1="136.5" y1="621.1" x2="139.3" y2="621.1" stroke="#333" stroke-width="0.8"/>
<text x="135.7" y="623.9" font-size="7.8" font-weight="normal" text-anchor="end" fill="#222" stroke="#222" stroke-width="0.22">60</text>
<line x1="136.5" y1="610.1" x2="139.3" y2="610.1" stroke="#333" stroke-width="0.8"/>
<text x="135.7" y="612.9" font-size="7.8" font-weight="normal" text-anchor="end" fill="#222" stroke="#222" stroke-width="0.22">90</text>
<line x1="136.5" y1="599.1" x2="139.3" y2="599.1" stroke="#333" stroke-width="0.8"/>
<text x="135.7" y="601.9" font-size="7.8" font-weight="normal" text-anchor="end" fill="#222" stroke="#222" stroke-width="0.22">120</text>
<line x1="136.5" y1="588.1" x2="139.3" y2="588.1" stroke="#333" stroke-width="0.8"/>
<text x="135.7" y="590.9" font-size="7.8" font-weight="normal" text-anchor="end" fill="#222" stroke="#222" stroke-width="0.22">150</text>
<line x1="139.3" y1="643.1" x2="139.3" y2="645.1" stroke="#333" stroke-width="0.7"/>
<text x="138.8" y="650.3" font-size="6.2" font-weight="normal" text-anchor="middle" fill="#333" stroke="#333" stroke-width="0.15">10<tspan font-size="3.6" dy="-2.6">0</tspan></text>
<line x1="155.4" y1="643.1" x2="155.4" y2="645.1" stroke="#333" stroke-width="0.7"/>
<text x="154.9" y="650.3" font-size="6.2" font-weight="normal" text-anchor="middle" fill="#333" stroke="#333" stroke-width="0.15">10<tspan font-size="3.6" dy="-2.6">1</tspan></text>
<line x1="171.5" y1="643.1" x2="171.5" y2="645.1" stroke="#333" stroke-width="0.7"/>
<text x="171.0" y="650.3" font-size="6.2" font-weight="normal" text-anchor="middle" fill="#333" stroke="#333" stroke-width="0.15">10<tspan font-size="3.6" dy="-2.6">2</tspan></text>
<line x1="187.6" y1="643.1" x2="187.6" y2="645.1" stroke="#333" stroke-width="0.7"/>
<text x="187.1" y="650.3" font-size="6.2" font-weight="normal" text-anchor="middle" fill="#333" stroke="#333" stroke-width="0.15">10<tspan font-size="3.6" dy="-2.6">3</tspan></text>
<line x1="203.7" y1="643.1" x2="203.7" y2="645.1" stroke="#333" stroke-width="0.7"/>
<text x="203.2" y="650.3" font-size="6.2" font-weight="normal" text-anchor="middle" fill="#333" stroke="#333" stroke-width="0.15">10<tspan font-size="3.6" dy="-2.6">4</tspan></text>
<text x="172.2" y="659.2" font-size="6.3" font-weight="bold" text-anchor="middle" fill="#555">FITC-BrdU</text>
<text x="170.9" y="581.3" font-size="9.1" font-weight="normal" text-anchor="middle" fill="#222" stroke="#222" stroke-width="0.22">Unstain</text>
<text transform="translate(118.6 615) rotate(-90)" font-size="7.8" font-weight="normal" text-anchor="middle" fill="#222" stroke="#222" stroke-width="0.22">Counts</text>
<line x1="153.6" y1="597.7" x2="202.7" y2="597.7" stroke="#444" stroke-width="0.9"/>
<line x1="153.6" y1="595.5" x2="153.6" y2="599.9" stroke="#444" stroke-width="0.9"/>
<line x1="202.7" y1="595.5" x2="202.7" y2="599.9" stroke="#444" stroke-width="0.9"/>
<text x="177.6" y="595.9" font-size="6.6" font-weight="normal" text-anchor="middle" fill="#333" stroke="#222" stroke-width="0.22">M1</text>
<path d="M211.2,643.1L211.2,641.4L211.9,641.7L212.5,641.4L213.2,640.7L213.9,639.2L214.6,637.2L215.2,634.7L215.9,632.0L216.6,629.5L217.2,627.7L217.9,626.9L218.6,626.8L219.3,627.4L219.9,628.3L220.6,629.1L221.3,629.9L221.9,630.7L222.6,631.7L223.3,632.7L224.0,633.8L224.6,635.0L225.3,636.1L226.0,637.2L226.7,638.0L227.3,638.7L228.0,639.1L228.7,639.3L229.3,639.3L230.0,639.1L230.7,638.7L231.4,638.2L232.0,637.6L232.7,636.9L233.4,636.1L234.0,635.3L234.7,634.5L235.4,633.8L236.1,633.3L236.7,633.0L237.4,633.0L238.1,633.3L238.7,633.8L239.4,634.6L240.1,635.5L240.8,636.5L241.4,637.6L242.1,638.6L242.8,639.5L243.4,640.3L244.1,641.0L244.8,641.6L245.5,642.1L246.1,642.4L246.8,642.6L247.5,642.8L248.2,642.9L248.8,643.0L249.5,643.0L250.2,643.1L275.7,643.1Z" fill="#000"/>
<rect x="211.2" y="588.1" width="64.5" height="55" fill="none" stroke="#222" stroke-width="1.1"/>
<line x1="208.4" y1="643.1" x2="211.2" y2="643.1" stroke="#333" stroke-width="0.8"/>
<line x1="208.4" y1="632.1" x2="211.2" y2="632.1" stroke="#333" stroke-width="0.8"/>
<line x1="208.4" y1="621.1" x2="211.2" y2="621.1" stroke="#333" stroke-width="0.8"/>
<line x1="208.4" y1="610.1" x2="211.2" y2="610.1" stroke="#333" stroke-width="0.8"/>
<line x1="208.4" y1="599.1" x2="211.2" y2="599.1" stroke="#333" stroke-width="0.8"/>
<line x1="208.4" y1="588.1" x2="211.2" y2="588.1" stroke="#333" stroke-width="0.8"/>
<line x1="211.2" y1="643.1" x2="211.2" y2="645.1" stroke="#333" stroke-width="0.7"/>
<text x="210.7" y="650.3" font-size="6.2" font-weight="normal" text-anchor="middle" fill="#333" stroke="#333" stroke-width="0.15">10<tspan font-size="3.6" dy="-2.6">0</tspan></text>
<line x1="227.32" y1="643.1" x2="227.32" y2="645.1" stroke="#333" stroke-width="0.7"/>
<text x="226.82" y="650.3" font-size="6.2" font-weight="normal" text-anchor="middle" fill="#333" stroke="#333" stroke-width="0.15">10<tspan font-size="3.6" dy="-2.6">1</tspan></text>
<line x1="243.45" y1="643.1" x2="243.45" y2="645.1" stroke="#333" stroke-width="0.7"/>
<text x="242.95" y="650.3" font-size="6.2" font-weight="normal" text-anchor="middle" fill="#333" stroke="#333" stroke-width="0.15">10<tspan font-size="3.6" dy="-2.6">2</tspan></text>
<line x1="259.57" y1="643.1" x2="259.57" y2="645.1" stroke="#333" stroke-width="0.7"/>
<text x="259.07" y="650.3" font-size="6.2" font-weight="normal" text-anchor="middle" fill="#333" stroke="#333" stroke-width="0.15">10<tspan font-size="3.6" dy="-2.6">3</tspan></text>
<line x1="275.7" y1="643.1" x2="275.7" y2="645.1" stroke="#333" stroke-width="0.7"/>
<text x="275.2" y="650.3" font-size="6.2" font-weight="normal" text-anchor="middle" fill="#333" stroke="#333" stroke-width="0.15">10<tspan font-size="3.6" dy="-2.6">4</tspan></text>
<text x="244.7" y="659.2" font-size="6.3" font-weight="bold" text-anchor="middle" fill="#555">FITC-BrdU</text>
<text x="242.9" y="580.7" font-size="9.2" font-weight="normal" text-anchor="middle" fill="#222" stroke="#222" stroke-width="0.22">17.5 mM Glucose</text>
<line x1="226.1" y1="597.2" x2="275.2" y2="597.2" stroke="#444" stroke-width="0.9"/>
<line x1="226.1" y1="595" x2="226.1" y2="599.4" stroke="#444" stroke-width="0.9"/>
<line x1="275.2" y1="595" x2="275.2" y2="599.4" stroke="#444" stroke-width="0.9"/>
<text x="250.4" y="594.9" font-size="6.6" font-weight="normal" text-anchor="middle" fill="#333" stroke="#222" stroke-width="0.22">M1</text>
<text x="251.9" y="606.4" font-size="7.6" font-weight="normal" text-anchor="middle" fill="#333" letter-spacing="0.2" stroke="#222" stroke-width="0.22">42.5%</text>
<path d="M285.1,643.1L285.1,641.8L285.8,641.9L286.4,641.6L287.1,640.7L287.8,639.1L288.5,636.8L289.1,633.8L289.8,630.5L290.5,627.4L291.2,625.2L291.8,624.4L292.5,625.5L293.2,628.5L293.8,632.3L294.5,636.0L295.2,639.0L295.9,641.0L296.5,642.1L297.2,642.7L297.9,643.0L298.6,643.1L305.3,643.0L306.0,642.9L306.6,642.7L307.3,642.4L308.0,641.8L308.7,640.9L309.3,639.7L310.0,638.1L310.7,636.3L311.3,634.4L312.0,632.8L312.7,631.6L313.4,631.2L314.0,631.3L314.7,631.6L315.4,632.1L316.1,632.8L316.7,633.7L317.4,634.6L318.1,635.6L318.7,636.6L319.4,637.6L320.1,638.5L320.8,639.4L321.4,640.1L322.1,640.7L322.8,641.3L323.5,641.7L324.1,642.1L324.8,642.4L325.5,642.6L326.1,642.7L326.8,642.8L327.5,642.9L328.2,643.0L328.8,643.0L329.5,643.1L349.7,643.1Z" fill="#000"/>
<rect x="285.1" y="588.1" width="64.6" height="55" fill="none" stroke="#222" stroke-width="1.1"/>
<line x1="282.3" y1="643.1" x2="285.1" y2="643.1" stroke="#333" stroke-width="0.8"/>
<line x1="282.3" y1="632.1" x2="285.1" y2="632.1" stroke="#333" stroke-width="0.8"/>
<line x1="282.3" y1="621.1" x2="285.1" y2="621.1" stroke="#333" stroke-width="0.8"/>
<line x1="282.3" y1="610.1" x2="285.1" y2="610.1" stroke="#333" stroke-width="0.8"/>
<line x1="282.3" y1="599.1" x2="285.1" y2="599.1" stroke="#333" stroke-width="0.8"/>
<line x1="282.3" y1="588.1" x2="285.1" y2="588.1" stroke="#333" stroke-width="0.8"/>
<line x1="285.1" y1="643.1" x2="285.1" y2="645.1" stroke="#333" stroke-width="0.7"/>
<text x="284.6" y="650.3" font-size="6.2" font-weight="normal" text-anchor="middle" fill="#333" stroke="#333" stroke-width="0.15">10<tspan font-size="3.6" dy="-2.6">0</tspan></text>
<line x1="301.25" y1="643.1" x2="301.25" y2="645.1" stroke="#333" stroke-width="0.7"/>
<text x="300.75" y="650.3" font-size="6.2" font-weight="normal" text-anchor="middle" fill="#333" stroke="#333" stroke-width="0.15">10<tspan font-size="3.6" dy="-2.6">1</tspan></text>
<line x1="317.4" y1="643.1" x2="317.4" y2="645.1" stroke="#333" stroke-width="0.7"/>
<text x="316.9" y="650.3" font-size="6.2" font-weight="normal" text-anchor="middle" fill="#333" stroke="#333" stroke-width="0.15">10<tspan font-size="3.6" dy="-2.6">2</tspan></text>
<line x1="333.55" y1="643.1" x2="333.55" y2="645.1" stroke="#333" stroke-width="0.7"/>
<text x="333.05" y="650.3" font-size="6.2" font-weight="normal" text-anchor="middle" fill="#333" stroke="#333" stroke-width="0.15">10<tspan font-size="3.6" dy="-2.6">3</tspan></text>
<line x1="349.7" y1="643.1" x2="349.7" y2="645.1" stroke="#333" stroke-width="0.7"/>
<text x="349.2" y="650.3" font-size="6.2" font-weight="normal" text-anchor="middle" fill="#333" stroke="#333" stroke-width="0.15">10<tspan font-size="3.6" dy="-2.6">4</tspan></text>
<text x="319.9" y="659.2" font-size="6.3" font-weight="bold" text-anchor="middle" fill="#555">FITC-BrdU</text>
<text x="318.3" y="580.7" font-size="9.2" font-weight="normal" text-anchor="middle" fill="#222" stroke="#222" stroke-width="0.22">50 mM Glucose</text>
<line x1="298.8" y1="597.2" x2="348.9" y2="597.2" stroke="#444" stroke-width="0.9"/>
<line x1="298.8" y1="595" x2="298.8" y2="599.4" stroke="#444" stroke-width="0.9"/>
<line x1="348.9" y1="595" x2="348.9" y2="599.4" stroke="#444" stroke-width="0.9"/>
<text x="322.4" y="594.9" font-size="6.6" font-weight="normal" text-anchor="middle" fill="#333" stroke="#222" stroke-width="0.22">M1</text>
<text x="323.6" y="606.4" font-size="7.6" font-weight="normal" text-anchor="middle" fill="#333" letter-spacing="0.2" stroke="#222" stroke-width="0.22">42%</text>
</svg>
</body>
</html>
